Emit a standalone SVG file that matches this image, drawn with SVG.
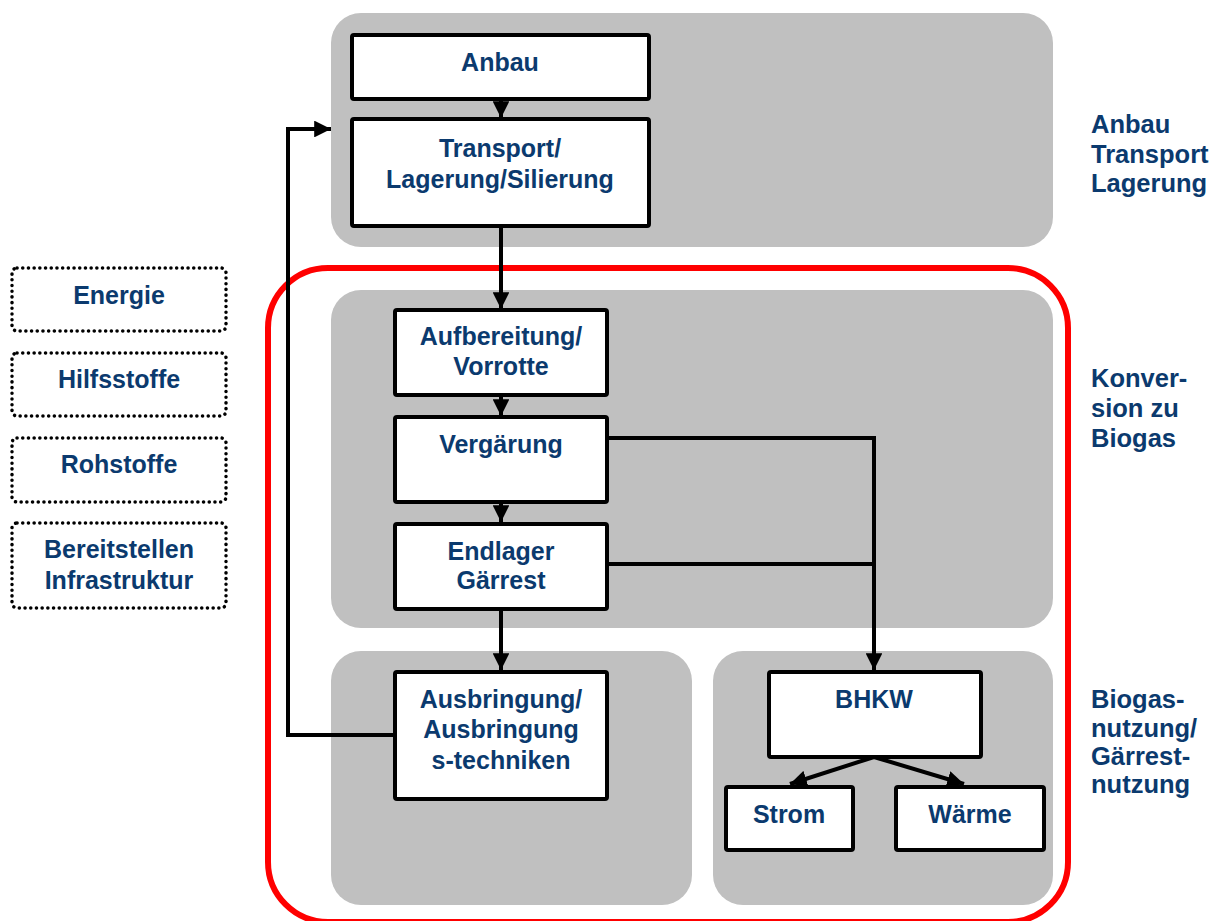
<svg xmlns="http://www.w3.org/2000/svg" width="1223" height="921" viewBox="0 0 1223 921">
<style>
.panel{fill:#c0c0c0;stroke:none}
.box{fill:#fff;stroke:#000;stroke-width:4}
.dot{fill:#fff;stroke:#000;stroke-width:3.5;stroke-dasharray:0.1 5.6;stroke-linecap:round}
.t{font-family:"Liberation Sans",Arial,sans-serif;font-weight:bold;font-size:25px;fill:#0b3a6e;text-anchor:middle}
.r{font-family:"Liberation Sans",Arial,sans-serif;font-weight:bold;font-size:25.5px;fill:#0b3a6e}
.c{fill:none;stroke:#000;stroke-width:4}
</style>
<defs>
<marker id="ah" viewBox="0 0 10 10" refX="10" refY="5" markerWidth="4.2" markerHeight="4.2" markerUnits="strokeWidth" orient="auto">
<path d="M0,0 L10,5 L0,10 Z" fill="#000"/>
</marker>
</defs>
<g id="panels">
<rect class="panel" x="331" y="13" width="722" height="234" rx="30"/>
<rect class="panel" x="331" y="290" width="722" height="338" rx="30"/>
<rect class="panel" x="331" y="651" width="361" height="254" rx="30"/>
<rect class="panel" x="713" y="651" width="340" height="254" rx="30"/>
</g>
<rect id="frame" x="268" y="268" width="800" height="654" rx="60" fill="none" stroke="#ff0000" stroke-width="6"/>
<g id="connectors">
<line class="c" x1="501" y1="99" x2="501" y2="118" marker-end="url(#ah)"/>
<line class="c" x1="501" y1="226" x2="501" y2="309" marker-end="url(#ah)"/>
<line class="c" x1="501" y1="395" x2="501" y2="416" marker-end="url(#ah)"/>
<line class="c" x1="501" y1="502" x2="501" y2="522" marker-end="url(#ah)"/>
<line class="c" x1="501" y1="609" x2="501" y2="670" marker-end="url(#ah)"/>
<polyline class="c" points="607,438 874,438 874,670" marker-end="url(#ah)"/>
<line class="c" x1="607" y1="564" x2="874" y2="564"/>
<polyline class="c" points="393,735 288,735 288,129 331,129" marker-end="url(#ah)"/>
<line class="c" x1="874" y1="757" x2="790" y2="784" marker-end="url(#ah)"/>
<line class="c" x1="874" y1="757" x2="964" y2="784" marker-end="url(#ah)"/>
</g>
<g id="n-anbau"><rect class="box" x="352" y="35" width="297" height="64" rx="2"/><text class="t" x="500" y="71">Anbau</text></g>
<g id="n-transport"><rect class="box" x="352" y="119" width="297" height="107" rx="2"/><text class="t" x="500" y="157">Transport/</text><text class="t" x="500" y="188">Lagerung/Silierung</text></g>
<g id="n-aufbereitung"><rect class="box" x="395" y="310" width="212" height="85" rx="2"/><text class="t" x="501" y="345">Aufbereitung/</text><text class="t" x="501" y="375">Vorrotte</text></g>
<g id="n-vergaerung"><rect class="box" x="395" y="417" width="212" height="85" rx="2"/><text class="t" x="501" y="453">Vergärung</text></g>
<g id="n-endlager"><rect class="box" x="395" y="524" width="212" height="85" rx="2"/><text class="t" x="501" y="560">Endlager</text><text class="t" x="501" y="589">Gärrest</text></g>
<g id="n-ausbringung"><rect class="box" x="395" y="672" width="212" height="127" rx="2"/><text class="t" x="501" y="708">Ausbringung/</text><text class="t" x="501" y="738">Ausbringung</text><text class="t" x="501" y="769">s-techniken</text></g>
<g id="n-bhkw"><rect class="box" x="769" y="672" width="212" height="85" rx="2"/><text class="t" x="874" y="708">BHKW</text></g>
<g id="n-strom"><rect class="box" x="726" y="787" width="127" height="63" rx="2"/><text class="t" x="789" y="823">Strom</text></g>
<g id="n-waerme"><rect class="box" x="896" y="787" width="148" height="63" rx="2"/><text class="t" x="970" y="823">Wärme</text></g>
<g id="n-energie"><rect class="dot" x="12" y="268" width="214" height="63" rx="5"/><text class="t" x="119" y="304">Energie</text></g>
<g id="n-hilfsstoffe"><rect class="dot" x="12" y="353" width="214" height="63" rx="5"/><text class="t" x="119" y="388">Hilfsstoffe</text></g>
<g id="n-rohstoffe"><rect class="dot" x="12" y="438" width="214" height="64" rx="5"/><text class="t" x="119" y="473">Rohstoffe</text></g>
<g id="n-bereitstellen"><rect class="dot" x="12" y="523" width="214" height="85" rx="5"/><text class="t" x="119" y="558">Bereitstellen</text><text class="t" x="119" y="589">Infrastruktur</text></g>
<g id="labels">
<text class="r" x="1091" y="133">Anbau</text>
<text class="r" x="1091" y="163">Transport</text>
<text class="r" x="1091" y="192">Lagerung</text>
<text class="r" x="1091" y="387">Konver-</text>
<text class="r" x="1091" y="417">sion zu</text>
<text class="r" x="1091" y="447">Biogas</text>
<text class="r" x="1091" y="708">Biogas-</text>
<text class="r" x="1091" y="737">nutzung/</text>
<text class="r" x="1091" y="765">Gärrest-</text>
<text class="r" x="1091" y="793">nutzung</text>
</g>
</svg>
